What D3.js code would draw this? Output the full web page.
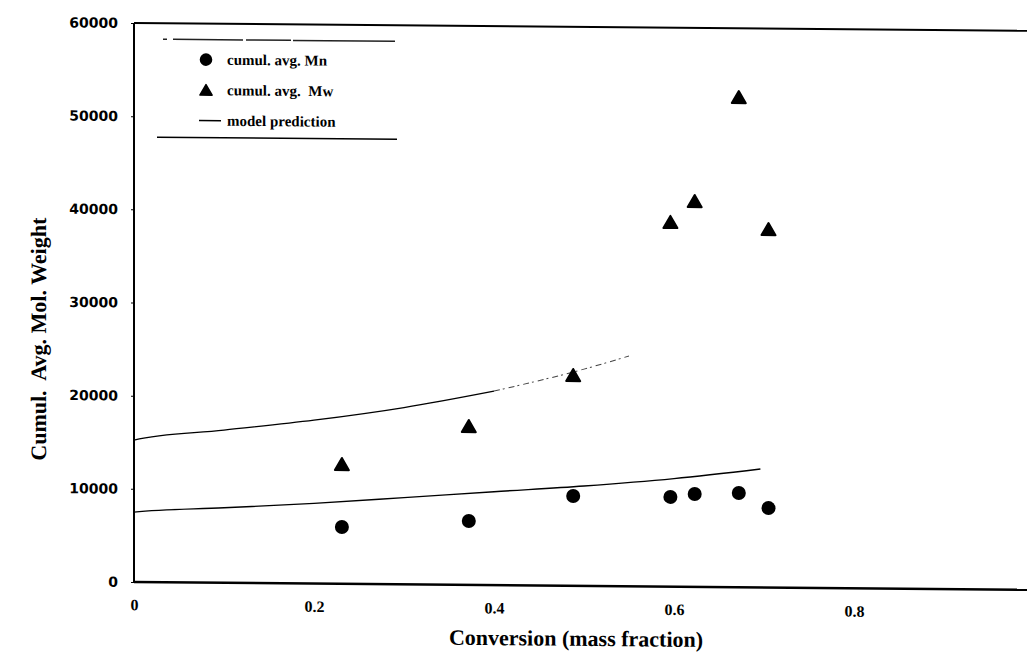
<!doctype html>
<html lang="en">

<head>
  <meta charset="UTF-8">
  <title>Cumul. Avg. Mol. Weight vs Conversion</title>
  <style type="text/css">
    body { margin: 0; background: #fff; }
    .tick line { stroke: #000; }
    .ytick text { font-family: "DejaVu Sans"; font-weight: bold; font-size: 14px; }
    .xtick text { font-family: "Liberation Serif"; font-weight: bold; font-size: 16px; }
    .legend text { font-family: "Liberation Serif"; font-weight: bold; font-size: 15px; white-space: pre; }
    .title { font-family: "Liberation Serif"; font-weight: bold; font-size: 22px; white-space: pre; }
  </style>
  <script src="https://cdn.jsdelivr.net/npm/d3@7"></script>
</head>

<body>
  <div id="container"></div>
  <script>
    // measured points: conversion (mass fraction) and cumulative averages
    var conversion = [0.231, 0.372, 0.488, 0.596, 0.623, 0.672, 0.705];
    var mnValues = [6100, 6860, 9640, 9630, 9970, 10120, 8530];
    var mwValues = [12640, 16840, 22410, 38930, 41200, 52400, 38260];

    // model prediction curves (start at 0 on the axis)
    var modelMnX = [0, 0, 0.1, 0.2, 0.3, 0.4, 0.5, 0.6, 0.696];
    var modelMn = [0, 7500, 8050, 8610, 9310, 10030, 10720, 11600, 12710];
    var modelMwX = [0, 0, 0.1, 0.2, 0.3, 0.4, 0.5, 0.55];
    var modelMw = [0, 15240, 16390, 17540, 18980, 20830, 23270, 24720];

    var xTicks = [0, 0.2, 0.4, 0.6, 0.8];
    var yTicks = [0, 10000, 20000, 30000, 40000, 50000, 60000];
    var legendLabels = ['cumul. avg. Mn', 'cumul. avg.  Mw', 'model prediction'];

    var width = 1027,
      height = 660,
      margin = { left: 134, top: 23 },
      g_width = 900,
      g_height = 559;

    var svg = d3.select('#container').append('svg').attr('width', width).attr('height', height)
    // the scanned figure is a little skewed
    var g = svg.append('g').attr('transform', 'translate(' + margin.left + ',' + margin.top + ') skewY(0.5)')

    var x = d3.scaleLinear().domain([0, 1]).range([0, g_width]);
    var y = d3.scaleLinear().domain([0, 60000]).range([g_height, 0]);

    // axes
    var yAxis = g.append('g').attr('class', 'ytick')
      .call(d3.axisLeft(y).tickValues(yTicks).tickSize(3).tickPadding(13).tickFormat(d3.format('d')));
    yAxis.select('.domain').remove();

    var xAxis = g.append('g').attr('class', 'xtick').attr('transform', 'translate(0,' + g_height + ')')
      .call(d3.axisBottom(x).tickValues(xTicks).tickSize(0).tickPadding(17).tickFormat(function (d) { return d === 0 ? '0' : d; }));
    xAxis.select('.domain').remove();

    // frame
    g.append('line').attr('x1', 0).attr('y1', 0).attr('x2', g_width).attr('y2', 0).attr('stroke', '#000').attr('stroke-width', 2);
    g.append('line').attr('x1', 0).attr('y1', 0).attr('x2', 0).attr('y2', g_height).attr('stroke', '#000').attr('stroke-width', 2);
    g.append('line').attr('x1', 0).attr('y1', g_height).attr('x2', g_width).attr('y2', g_height).attr('stroke', '#000').attr('stroke-width', 2.5);

    // model lines
    var line = d3.line()
      .x(function (d) { return x(d[0]); })
      .y(function (d) { return y(d[1]); })
      .curve(d3.curveMonotoneX);

    var mnModel = d3.zip(modelMnX, modelMn);
    var mwModel = d3.zip(modelMwX, modelMw);
    g.append('path').attr('d', line(mnModel)).attr('fill', 'none').attr('stroke', '#000').attr('stroke-width', 1.4);
    g.append('path').attr('d', line(mwModel.filter(function (d) { return d[0] <= 0.4; })))
      .attr('fill', 'none').attr('stroke', '#000').attr('stroke-width', 1.3);
    g.append('path').attr('d', line(mwModel.filter(function (d) { return d[0] >= 0.4; })))
      .attr('fill', 'none').attr('stroke', '#444').attr('stroke-width', 1).attr('stroke-dasharray', '6,3,2,4');

    // points
    g.selectAll('.mn').data(d3.zip(conversion, mnValues)).enter().append('circle')
      .attr('class', 'mn')
      .attr('cx', function (d) { return x(d[0]); })
      .attr('cy', function (d) { return y(d[1]); })
      .attr('r', 7);

    var tri = d3.symbol().type(d3.symbolTriangle).size(85);
    g.selectAll('.mw').data(d3.zip(conversion, mwValues)).enter().append('path')
      .attr('class', 'mw')
      .attr('d', tri)
      .attr('stroke', '#000').attr('stroke-width', 2).attr('stroke-linejoin', 'round')
      .attr('transform', function (d) { return 'translate(' + x(d[0]) + ',' + y(d[1]) + ')'; });

    // legend
    var lg = g.append('g').attr('class', 'legend');
    lg.append('line').attr('x1', 29).attr('y1', 16).attr('x2', 261).attr('y2', 16)
      .attr('stroke', '#222').attr('stroke-width', 1.5).attr('stroke-dasharray', '4,6,70,3,45,2,110');
    lg.append('line').attr('x1', 23).attr('y1', 114).attr('x2', 263).attr('y2', 114)
      .attr('stroke', '#000').attr('stroke-width', 1.5);
    lg.append('circle').attr('cx', 72).attr('cy', 36).attr('r', 6.3);
    lg.append('path').attr('d', d3.symbol().type(d3.symbolTriangle).size(65)).attr('stroke', '#000')
      .attr('stroke-width', 1.5).attr('stroke-linejoin', 'round').attr('transform', 'translate(72,68)');
    lg.append('line').attr('x1', 65).attr('y1', 97).attr('x2', 87).attr('y2', 97).attr('stroke', '#000').attr('stroke-width', 1.5);
    lg.selectAll('.lt').data(legendLabels).enter().append('text')
      .attr('class', 'lt')
      .attr('x', 93)
      .attr('y', function (d, i) { return 41 + i * 30.5; })
      .text(function (d) { return d; });

    // axis titles
    g.append('text').attr('class', 'title')
      .attr('transform', 'translate(' + (46 - margin.left) + ',' + (340 - margin.top) + ') rotate(-90)')
      .attr('text-anchor', 'middle')
      .text('Cumul.  Avg. Mol. Weight');
    g.append('text').attr('class', 'title')
      .attr('x', 576 - margin.left).attr('y', 642 - margin.top)
      .attr('text-anchor', 'middle')
      .text('Conversion (mass fraction)');
  </script>
</body>

</html>
